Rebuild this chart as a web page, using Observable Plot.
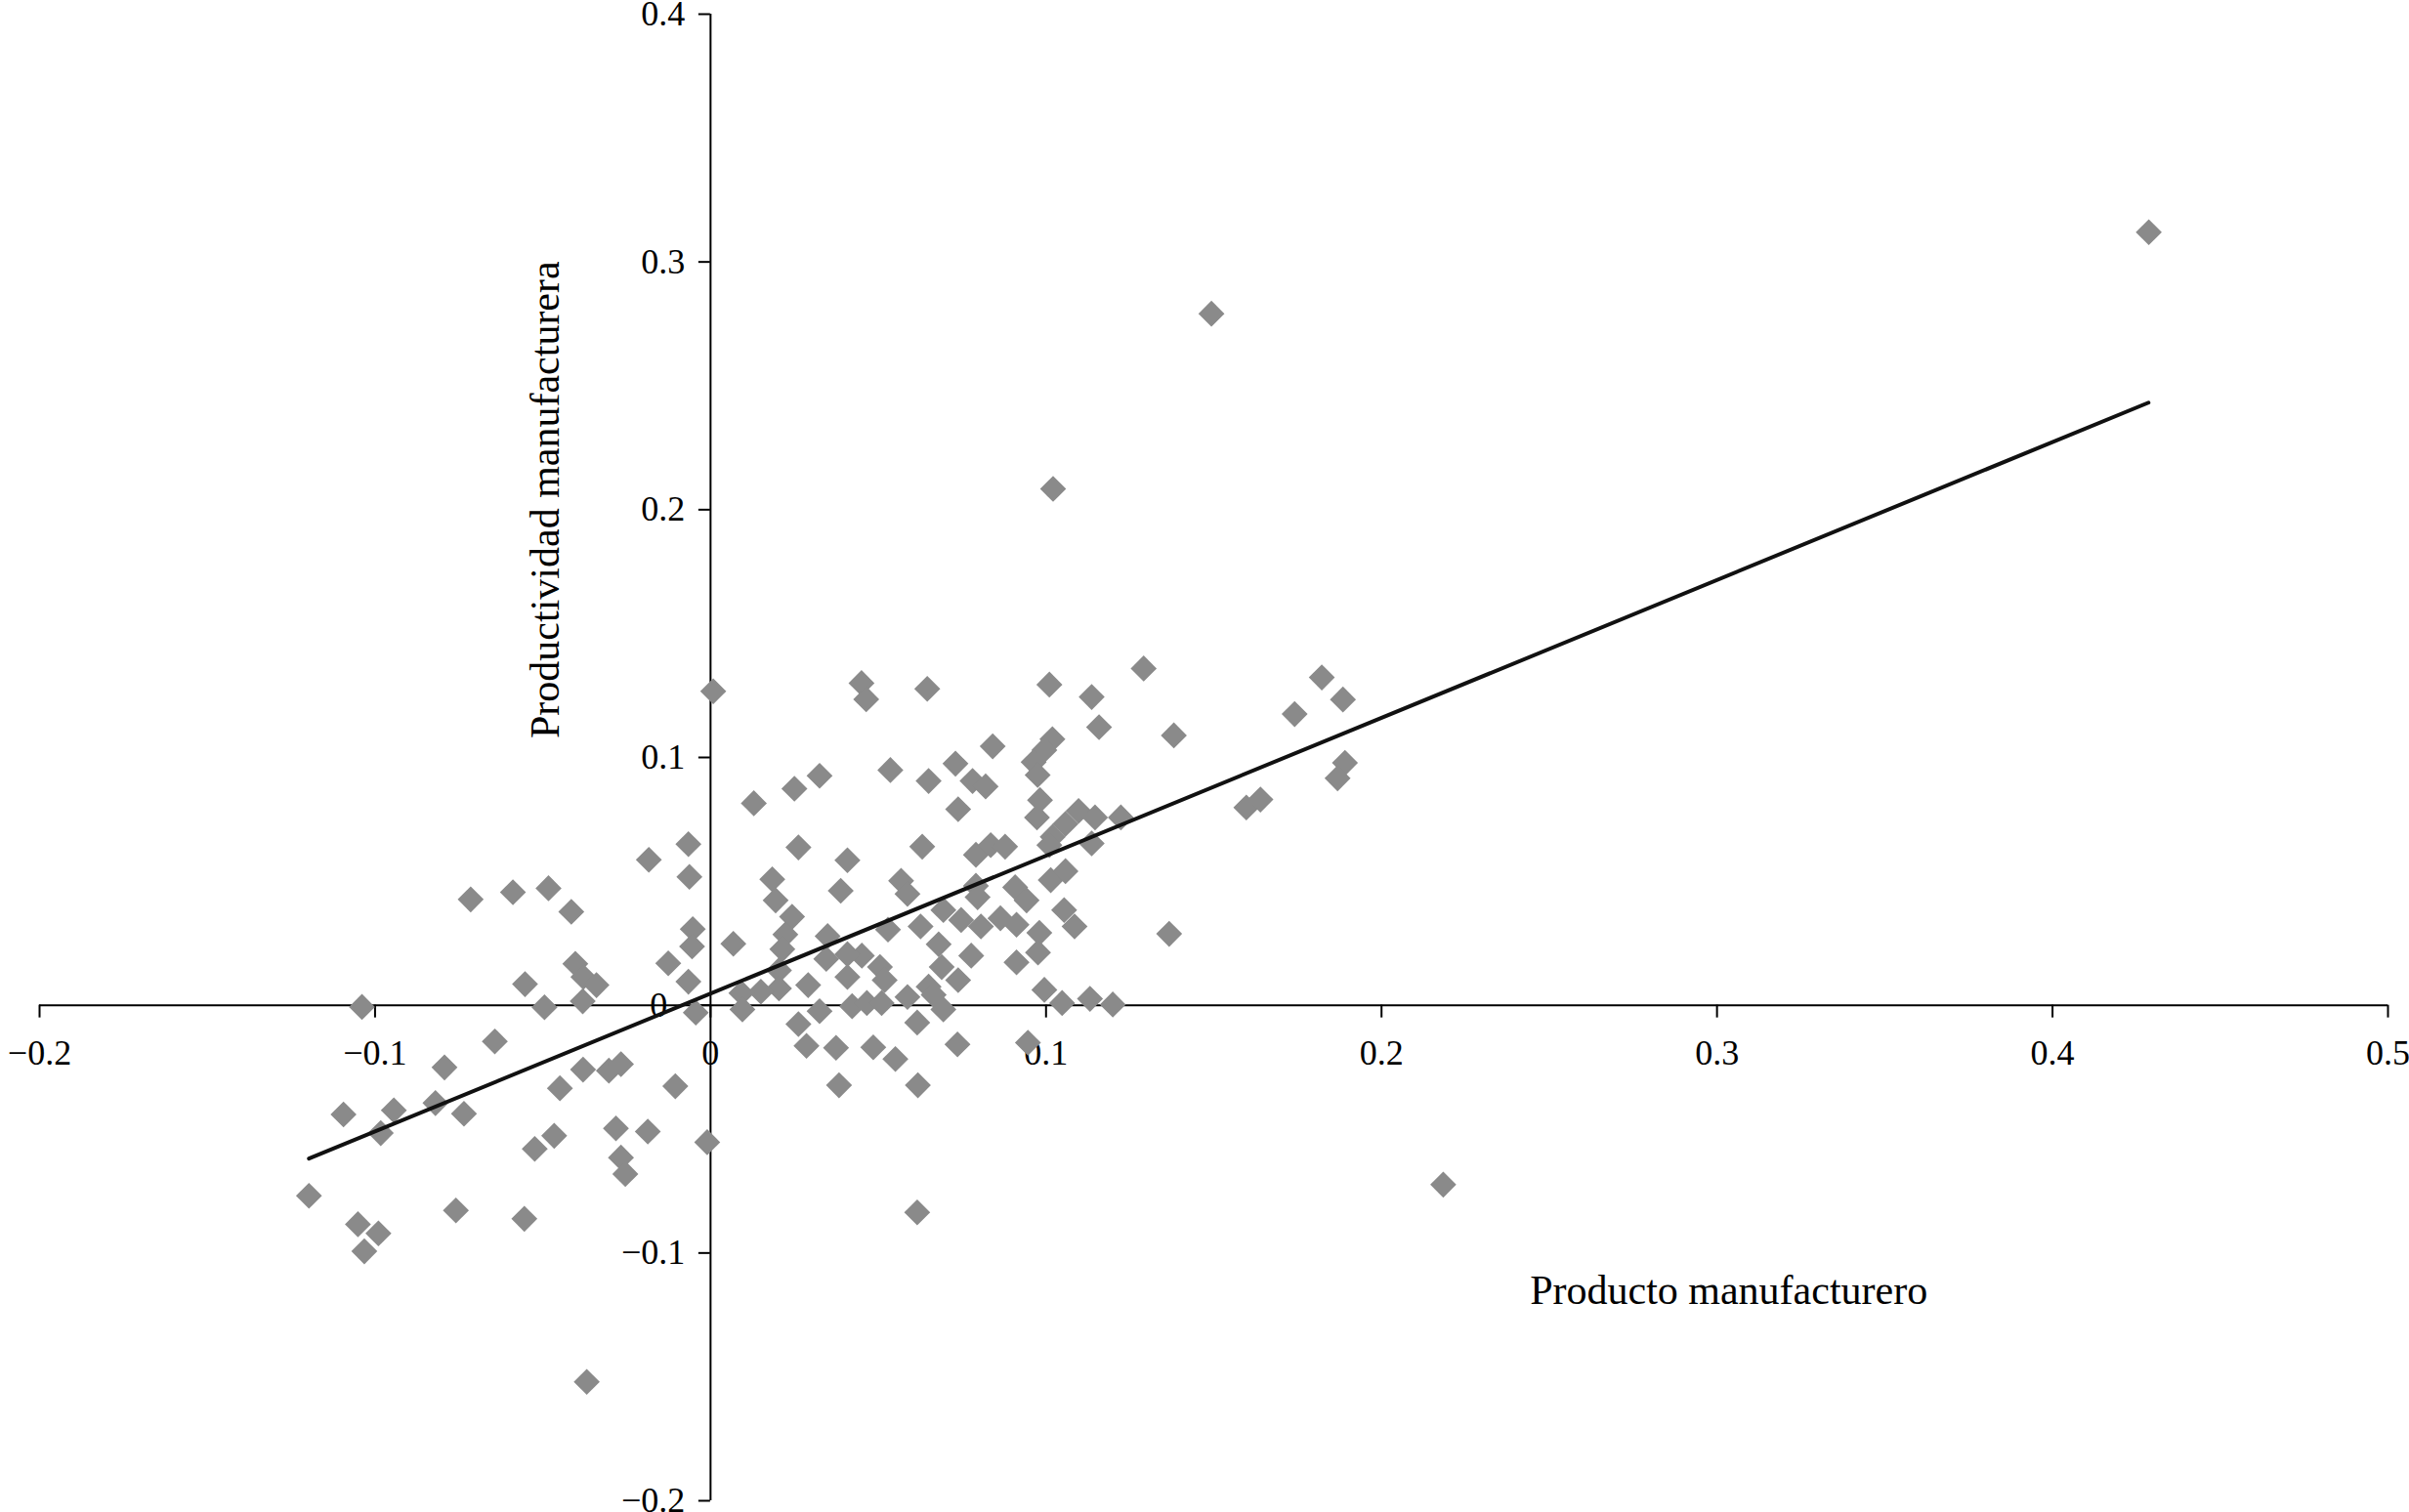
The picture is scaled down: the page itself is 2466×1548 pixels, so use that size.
<!DOCTYPE html>
<html>
<head>
<meta charset="utf-8">
<script src="https://cdn.jsdelivr.net/npm/d3@7"></script>
<script src="https://cdn.jsdelivr.net/npm/@observablehq/plot@0.6"></script>
<style>
  html, body { margin: 0; padding: 0; background: #fff; }
  #chart svg { display: block; }
</style>
</head>
<body>
<div id="chart"></div>
<script>
// Producto manufacturero (x) y productividad manufacturera (y)
const productoX = [
  -0.0066, -0.0184, -0.0063, -0.0715, -0.0589, -0.0483, -0.0415, -0.0053, -0.0055, -0.0126,
  -0.0066, -0.0553, -0.0403, -0.0379, -0.0340, -0.0495, -0.0381, -0.1039, -0.0044, -0.0643,
  -0.0793, -0.0380, -0.0303, -0.0267, -0.0449, -0.0105, -0.1094, -0.0944, -0.0820, -0.0735,
  -0.0983, -0.0466, -0.0524, -0.0282, -0.0187, -0.0010, -0.0267, -0.0254, -0.1197, -0.0759,
  -0.0555, -0.1051, -0.0990, -0.1032, -0.0369,
  0.0008, 0.0450, 0.0464, 0.0646, 0.1010, 0.0841, 0.1019, 0.0995, 0.0963, 0.0975,
  0.0536, 0.0730, 0.0650, 0.0781, 0.0820, 0.0738, 0.0982, 0.0973, 0.0325, 0.0250,
  0.0129,
  0.1291, 0.1136, 0.1158, 0.1381, 0.1822, 0.1885, 0.1741, 0.1891, 0.1869, 0.1597,
  0.1639, 0.1223, 0.1097, 0.1146, 0.1058, 0.1020,
  0.0262, 0.0408, 0.0631, 0.0791, 0.0835, 0.0878, 0.1010, 0.0184, 0.0388, 0.0568,
  0.0587, 0.1014, 0.0194, 0.0243, 0.0223, 0.0214, 0.0068, 0.0791, 0.0796, 0.0908,
  0.0942, 0.0694, 0.0626, 0.0529, 0.0349, 0.0747, 0.0806, 0.0864, 0.0912, 0.0980,
  0.0680, 0.0777, 0.0976, 0.0912, 0.0451, 0.0408, 0.0345, 0.0408, 0.0505, 0.0519,
  0.0689, 0.0738, 0.0650, 0.0995, 0.0204, 0.0204, 0.0291, 0.0150, 0.0092, 0.0095,
  0.0325, 0.0422, 0.0466, 0.0510, 0.0587, 0.0694, 0.0665, 0.0262, 0.0616,
  0.1136, 0.1058, 0.1054, 0.1085, 0.1367, 0.1048, 0.1131, 0.1199,
  0.0286, 0.0374, 0.0485, 0.0551, 0.0736, 0.0946, 0.0383, 0.0618, 0.0616,
  0.2184, 0.4287, 0.1493, 0.1021
];
const productividadY = [
  0.0650, 0.0587, 0.0518, 0.0427, 0.0456, 0.0472, 0.0377, 0.0307, 0.0237, 0.0169,
  0.0095, 0.0085, 0.0167, 0.0114, 0.0081, -0.0008, 0.0016, -0.0007, -0.0030, -0.0146,
  -0.0251, -0.0260, -0.0264, -0.0238, -0.0335, -0.0327, -0.0441, -0.0424, -0.0395, -0.0438,
  -0.0516, -0.0527, -0.0580, -0.0497, -0.0510, -0.0553, -0.0615, -0.0681, -0.0769, -0.0828,
  -0.0862, -0.0884, -0.0921, -0.0993, -0.1520,
  0.1267, 0.1300, 0.1235, 0.1277, 0.1294, 0.1045, 0.1074, 0.1030, 0.0981, 0.0929,
  0.0949, 0.0975, 0.0905, 0.0905, 0.0883, 0.0791, 0.0828, 0.0758, 0.0926, 0.0874,
  0.0815,
  0.1359, 0.1244, 0.1122, 0.1089, 0.1323, 0.1234, 0.1175, 0.0978, 0.0916, 0.0798,
  0.0830, 0.0758, 0.0784, 0.0758, 0.0732, 0.0680,
  0.0637, 0.0585, 0.0640, 0.0607, 0.0646, 0.0640, 0.0646, 0.0508, 0.0462, 0.0502,
  0.0449, 0.0505, 0.0423, 0.0357, 0.0285, 0.0226, 0.0248, 0.0482, 0.0436, 0.0476,
  0.0423, 0.0384, 0.0318, 0.0305, 0.0279, 0.0344, 0.0318, 0.0351, 0.0325, 0.0292,
  0.0246, 0.0200, 0.0213, 0.0173, 0.0200, 0.0206, 0.0187, 0.0114, 0.0154, 0.0101,
  0.0154, 0.0101, 0.0075, 0.0062, 0.0141, 0.0068, 0.0081, 0.0055, 0.0049, -0.0017,
  -0.0024, -0.0004, 0.0009, 0.0009, 0.0033, -0.0017, 0.0042, -0.0076, -0.0070,
  0.0653, 0.0541, 0.0384, 0.0318, 0.0288, 0.0009, 0.0026, 0.0003,
  -0.0164, -0.0172, -0.0170, -0.0217, -0.0158, -0.0151, -0.0323, -0.0323, -0.0836,
  -0.0724, 0.3120, 0.2791, 0.2084
];
// Recta de tendencia (extremos)
const trendX = [-0.1197, 0.4286];
const trendY = [-0.0619, 0.2432];

const xTicks = [-0.2, -0.1, 0, 0.1, 0.2, 0.3, 0.4, 0.5];
const yTicks = [-0.2, -0.1, 0, 0.1, 0.2, 0.3, 0.4];
const xTitle = "Producto manufacturero";
const yTitle = "Productividad manufacturera";

const points = productoX.map((x, i) => ({x, y: productividadY[i]}));
const trend = trendX.map((x, i) => ({x, y: trendY[i]}));

const W = 2466, H = 1548;
const mL = 40, mR = 22, mT = 14, mB = 12;
const xDomain = [-0.2, 0.5], yDomain = [-0.2, 0.4];
const xs = d3.scaleLinear(xDomain, [mL, W - mR]);
const ys = d3.scaleLinear(yDomain, [H - mB, mT]);
const x0px = xs(0), y0px = ys(0);

const fmtX = d => d === 0 ? "0" : d3.format(".1f")(d);
const fmtY = d => d === 0 ? "0\u2007" : d3.format(".1f")(d);

const chart = Plot.plot({
  width: W,
  height: H,
  marginLeft: mL,
  marginRight: mR,
  marginTop: mT,
  marginBottom: mB,
  style: {fontFamily: "'Liberation Serif', 'DejaVu Serif', serif", fontSize: "36px", color: "#000", background: "#fff"},
  x: {domain: xDomain},
  y: {domain: yDomain},
  marks: [
    Plot.ruleY([0], {stroke: "#000", strokeWidth: 2}),
    Plot.ruleX([0], {stroke: "#000", strokeWidth: 2}),
    Plot.axisX({
      anchor: "bottom", ticks: xTicks, tickFormat: fmtX, tickSize: 13, tickPadding: 22,
      strokeWidth: 2, fontSize: 36, label: null, dy: y0px - (H - mB)
    }),
    Plot.axisY({
      anchor: "left", ticks: yTicks, tickFormat: fmtY, tickSize: 12, tickPadding: 14,
      strokeWidth: 2, fontSize: 36, label: null, dx: x0px - mL
    }),
    Plot.dot(points, {x: "x", y: "y", symbol: "diamond2", r: 12, fill: "#8a8a8a", stroke: "none"}),
    Plot.line(trend, {x: "x", y: "y", stroke: "#111", strokeWidth: 4}),
    Plot.text([xTitle], {x: 0.3035, y: -0.1152, text: d => d, fontSize: 42, fill: "#000"}),
    Plot.text([yTitle], {x: -0.0492, y: 0.204, text: d => d, fontSize: 42, fill: "#000", rotate: -90})
  ]
});
document.getElementById("chart").appendChild(chart);
</script>
</body>
</html>
